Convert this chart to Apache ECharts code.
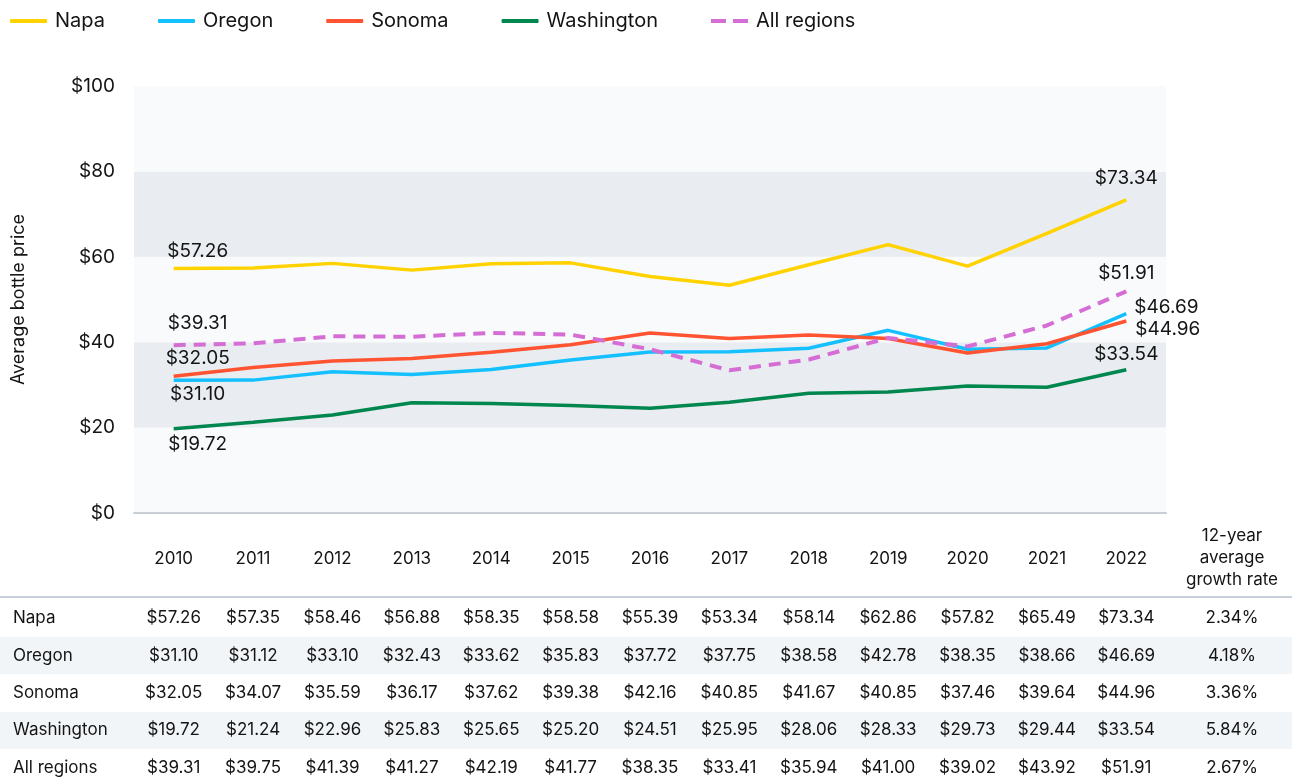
<!DOCTYPE html>
<html>
<head>
<meta charset="utf-8">
<script src="https://cdn.jsdelivr.net/npm/echarts@6/dist/echarts.min.js"></script>
<style>
html,body{margin:0;padding:0;background:#fff;}
#chart{width:1292px;height:780px;}
</style>
</head>
<body>
<div id="chart"></div>
<script>
const years = ['2010','2011','2012','2013','2014','2015','2016','2017','2018','2019','2020','2021','2022'];
const napa = [57.26,57.35,58.46,56.88,58.35,58.58,55.39,53.34,58.14,62.86,57.82,65.49,73.34];
const oregon = [31.10,31.12,33.10,32.43,33.62,35.83,37.72,37.75,38.58,42.78,38.35,38.66,46.69];
const sonoma = [32.05,34.07,35.59,36.17,37.62,39.38,42.16,40.85,41.67,40.85,37.46,39.64,44.96];
const washington = [19.72,21.24,22.96,25.83,25.65,25.20,24.51,25.95,28.06,28.33,29.73,29.44,33.54];
const allRegions = [39.31,39.75,41.39,41.27,42.19,41.77,38.35,33.41,35.94,41.00,39.02,43.92,51.91];
const regionNames = ['Napa','Oregon','Sonoma','Washington','All regions'];
const growth = ['2.34%','4.18%','3.36%','5.84%','2.67%'];

const FONT = 'Inter, "Liberation Sans", sans-serif';
const TXT = '#141414';
const money = v => '$' + v.toFixed(2);

function makeSeries(name, values, color, firstLabel, lastLabel, dashed) {
    return {
        name: name,
        type: 'line',
        symbol: 'circle',
        symbolSize: 0.1,
        showSymbol: true,
        z: dashed ? 3 : 2,
        lineStyle: {color: color, width: dashed ? 4 : 3.5, type: dashed ? [12, 8] : 'solid'},
        itemStyle: {color: color},
        emphasis: {disabled: true},
        label: {show: false, formatter: p => money(p.value), fontSize: 19, color: TXT, fontFamily: FONT},
        data: values.map((v, i) => {
            let item = {value: v};
            if (i === 0) item.label = Object.assign({show: true}, firstLabel);
            if (i === values.length - 1) item.label = Object.assign({show: true}, lastLabel);
            return item;
        })
    };
}

let chart = echarts.init(document.getElementById('chart'));
chart.setOption({
    animation: false,
    textStyle: {fontFamily: FONT},
    legend: {
        top: 6, left: 5,
        itemWidth: 37, itemHeight: 4, itemGap: 53,
        textStyle: {fontSize: 20, color: TXT, fontFamily: FONT, padding: [0, 0, 0, 3]},
        data: regionNames.map(n => ({
            name: n,
            icon: n === 'All regions' ? 'path://M0,0h15v4h-15z M22,0h15v4h-15z' : 'roundRect'
        }))
    },
    grid: {left: 134, right: 126, top: 86, bottom: 267},
    xAxis: {
        type: 'category',
        data: years,
        boundaryGap: true,
        axisLine: {lineStyle: {color: '#c9ced5', width: 2}},
        axisTick: {show: false},
        axisLabel: {margin: 37, fontSize: 17, color: TXT, fontFamily: FONT}
    },
    yAxis: {
        type: 'value',
        min: 0, max: 100, interval: 20,
        name: 'Average bottle price',
        nameLocation: 'middle',
        nameGap: 106,
        nameTextStyle: {fontSize: 18, color: TXT, fontFamily: FONT},
        axisLabel: {formatter: '${value}', fontSize: 19, color: TXT, margin: 19, fontFamily: FONT},
        splitLine: {show: false},
        splitArea: {show: true, areaStyle: {color: ['#f9fafc', '#e9ecf0']}}
    },
    series: [
        makeSeries('Napa', napa, '#ffd200',
            {position: 'top', distance: 8, offset: [24, 0]},
            {position: 'top', distance: 12}),
        makeSeries('Oregon', oregon, '#14c0ff',
            {position: 'bottom', distance: 5, offset: [24, 0]},
            {position: 'right', distance: 8, offset: [0, -6]}),
        makeSeries('Sonoma', sonoma, '#ff5331',
            {position: 'top', distance: 8, offset: [24, 0]},
            {position: 'right', distance: 9, offset: [0, 8]}),
        makeSeries('Washington', washington, '#00864f',
            {position: 'bottom', distance: 6, offset: [24, 0]},
            {position: 'top', distance: 6}),
        makeSeries('All regions', allRegions, '#d46ed4',
            {position: 'top', distance: 12, offset: [24, 0]},
            {position: 'top', distance: 9}, true)
    ]
});

// table under the chart, columns aligned to the x axis categories
const rows = [napa, oregon, sonoma, washington, allRegions];
const xs = years.map((y, i) => chart.convertToPixel({xAxisIndex: 0}, i));
const growthX = 1232;
const rowY0 = 618, rowH = 37.4;
const cellFont = '17px ' + FONT;
let g = [];
g.push({type: 'rect', shape: {x: 0, y: 596, width: 1292, height: 2}, style: {fill: '#c8d0da'}});
[1, 3].forEach(r => {
    g.push({type: 'rect', z: -1, shape: {x: 0, y: rowY0 + r * rowH - 18.5, width: 1292, height: rowH}, style: {fill: '#f2f5f8'}});
});
g.push({type: 'text', x: growthX, y: 558, style: {
    text: '12-year\naverage\ngrowth rate', fill: TXT, font: cellFont,
    align: 'center', verticalAlign: 'middle', lineHeight: 22
}});
rows.forEach((vals, r) => {
    let y = rowY0 + r * rowH;
    g.push({type: 'text', x: 13, y: y, style: {text: regionNames[r], fill: TXT, font: cellFont, align: 'left', verticalAlign: 'middle'}});
    vals.forEach((v, i) => {
        g.push({type: 'text', x: xs[i], y: y, style: {text: money(v), fill: TXT, font: cellFont, align: 'center', verticalAlign: 'middle'}});
    });
    g.push({type: 'text', x: growthX, y: y, style: {text: growth[r], fill: TXT, font: cellFont, align: 'center', verticalAlign: 'middle'}});
});
chart.setOption({graphic: g});
</script>
</body>
</html>
